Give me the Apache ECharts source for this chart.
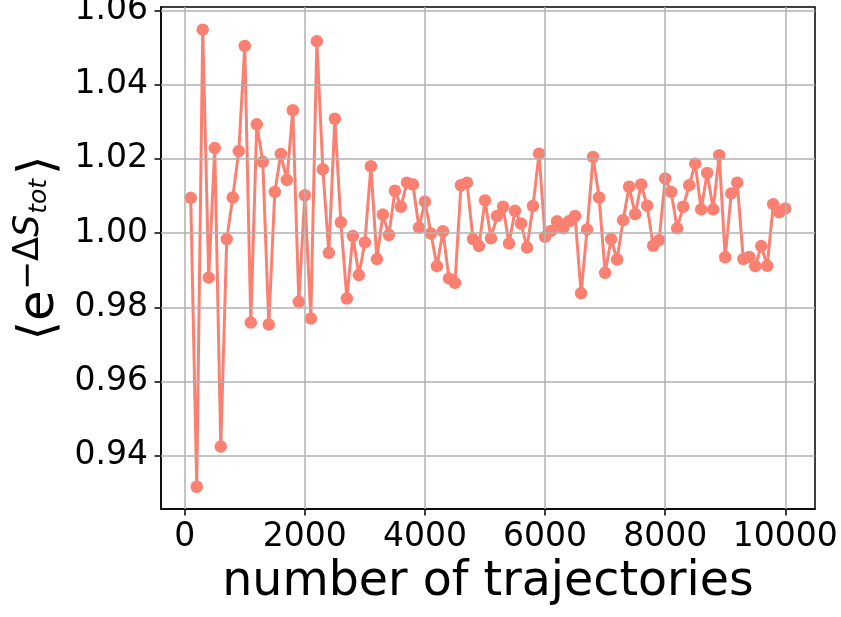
<!DOCTYPE html>
<html>
<head>
<meta charset="utf-8">
<script src="https://cdn.jsdelivr.net/npm/echarts@6/dist/echarts.min.js"></script>
<style>
html,body{margin:0;padding:0;background:#fff;}
#chart{width:841px;height:617px;}
</style>
</head>
<body>
<div id="chart"></div>
<script>
const xValues = [100,200,300,400,500,600,700,800,900,1000,
1100,1200,1300,1400,1500,1600,1700,1800,1900,2000,
2100,2200,2300,2400,2500,2600,2700,2800,2900,3000,
3100,3200,3300,3400,3500,3600,3700,3800,3900,4000,
4100,4200,4300,4400,4500,4600,4700,4800,4900,5000,
5100,5200,5300,5400,5500,5600,5700,5800,5900,6000,
6100,6200,6300,6400,6500,6600,6700,6800,6900,7000,
7100,7200,7300,7400,7500,7600,7700,7800,7900,8000,
8100,8200,8300,8400,8500,8600,8700,8800,8900,9000,
9100,9200,9300,9400,9500,9600,9700,9800,9900,10000];

const yValues = [1.0095,0.9317,1.0548,0.9880,1.0229,0.9425,0.9984,1.0096,1.0221,1.0504,
0.9759,1.0293,1.0192,0.9754,1.0111,1.0213,1.0143,1.0331,0.9815,1.0102,
0.9770,1.0517,1.0172,0.9947,1.0308,1.0029,0.9824,0.9992,0.9887,0.9975,
1.0180,0.9930,1.0050,0.9995,1.0114,1.0071,1.0136,1.0131,1.0015,1.0085,
0.9999,0.9911,1.0005,0.9878,0.9866,1.0129,1.0136,0.9984,0.9965,1.0088,
0.9986,1.0046,1.0071,0.9972,1.0060,1.0026,0.9961,1.0073,1.0214,0.9990,
1.0006,1.0032,1.0013,1.0032,1.0046,0.9838,1.0010,1.0205,1.0096,0.9893,
0.9984,0.9929,1.0035,1.0125,1.0051,1.0131,1.0074,0.9966,0.9981,1.0147,
1.0111,1.0013,1.0071,1.0129,1.0187,1.0064,1.0162,1.0064,1.0210,0.9935,
1.0107,1.0136,0.9930,0.9936,0.9911,0.9965,0.9912,1.0078,1.0056,1.0066];

const xTicks = [0,2000,4000,6000,8000,10000];
const yTicks = [0.94,0.96,0.98,1.00,1.02,1.04,1.06];
const xLabel = 'number of trajectories';

const FONT = 'DejaVu Sans';
const chart = echarts.init(document.getElementById('chart'), null, {renderer:'canvas'});

// y-axis label pieces: ⟨ e^{-ΔS_{tot}} ⟩
const yLabelPieces = [
  {t:'⟨', size:50, italic:false, dy:0},
  {t:'e', size:50, italic:false, dy:0},
  {t:'−Δ', size:35, italic:false, dy:-16},
  {t:'S', size:35, italic:true, dy:-16},
  {t:'tot', size:25, italic:true, dy:-9},
  {t:'⟩', size:50, italic:false, dy:0}
];
const mctx = document.createElement('canvas').getContext('2d');
function fontStr(p){ return (p.italic?'italic ':'') + p.size + 'px "' + FONT + '"'; }
let widths = yLabelPieces.map(p => { mctx.font = fontStr(p); return mctx.measureText(p.t).width; });
const gapAfter = [0,0,0,1,4,0];
let total = widths.reduce((a,b)=>a+b,0) + gapAfter.reduce((a,b)=>a+b,0);
let cx = -total/2;
const yLabelChildren = yLabelPieces.map((p,i) => {
  const el = {
    type:'text', x: cx, y: p.dy - 0.346*p.size,
    style:{text:p.t, fontSize:p.size, fontFamily:FONT, fontStyle:p.italic?'italic':'normal',
      fill:'#000', textAlign:'left', textVerticalAlign:'middle', verticalAlign:'middle'}
  };
  cx += widths[i] + gapAfter[i];
  return el;
});

const option = {
  animation:false,
  backgroundColor:'#fff',
  grid:{left:161, right:26, top:7, bottom:108, show:true, borderColor:'#000', borderWidth:1.5,
    backgroundColor:'transparent', containLabel:false, outerBoundsMode:'none'},
  xAxis:{
    type:'value', min:-395, max:10495,
    name:xLabel, nameLocation:'middle', nameGap:50,
    nameTextStyle:{fontSize:47.5, fontFamily:FONT, color:'#000'},
    axisLine:{show:true, onZero:false, lineStyle:{color:'#000', width:1.5}},
    axisTick:{show:true, customValues:xTicks, length:6.5, lineStyle:{color:'#000', width:1.5}},
    axisLabel:{customValues:xTicks, fontSize:33, fontFamily:FONT, color:'#000', margin:12,
      formatter: v => String(Math.round(v))},
    splitLine:{show:false}
  },
  yAxis:{
    type:'value', min:0.9257, max:1.0609,
    axisLine:{show:true, onZero:false, lineStyle:{color:'#000', width:1.5}},
    axisTick:{show:true, customValues:yTicks, length:6.5, lineStyle:{color:'#000', width:1.5}},
    axisLabel:{customValues:yTicks, fontSize:33, fontFamily:FONT, color:'#000', margin:13,
      formatter: v => Number(v).toFixed(2)},
    splitLine:{show:false}
  },
  graphic:[{type:'group', x:57, y:248, rotation:Math.PI/2, children:yLabelChildren}],
  series:[
    {
      type:'line', data:[], z:1, silent:true,
      markLine:{silent:true, symbol:'none', animation:false, label:{show:false},
        lineStyle:{color:'#b0b0b0', width:1.5, type:'solid'},
        data:[...xTicks.map(v=>({xAxis:v})), ...yTicks.map(v=>({yAxis:v}))]}
    },
    {
      type:'line', z:3,
      data:xValues.map((x,i)=>[x, yValues[i]]),
      symbol:'circle', symbolSize:12.5, showAllSymbol:true,
      lineStyle:{color:'#FA8072', width:3},
      itemStyle:{color:'#FA8072', borderWidth:0}
    }
  ]
};
chart.setOption(option);
</script>
</body>
</html>
